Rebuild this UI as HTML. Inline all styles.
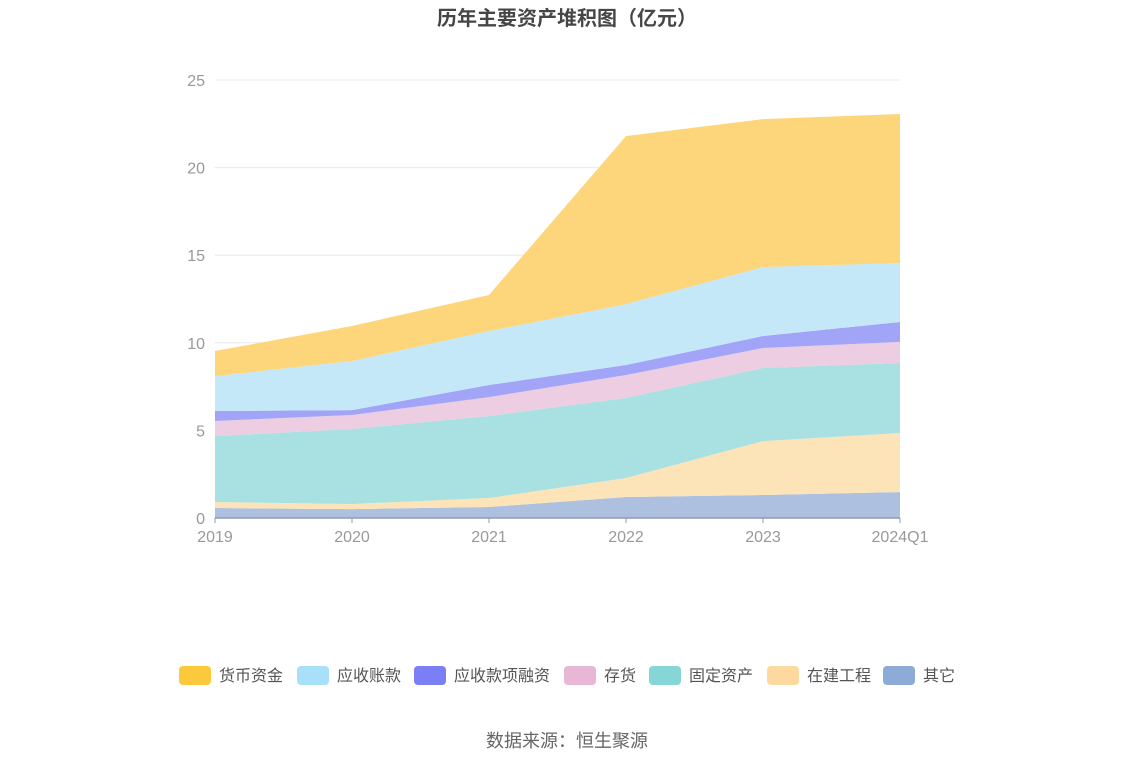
<!DOCTYPE html>
<html><head><meta charset="utf-8"><style>
body{margin:0;background:#fff;}
svg{display:block;font-family:"Liberation Sans","Noto Sans CJK SC",sans-serif;}
</style></head><body>
<svg id="c" width="1134" height="766">
<text x="567" y="25" text-anchor="middle" font-size="20" font-weight="bold" fill="#464646">历年主要资产堆积图（亿元）</text>
<g id="grid"></g><g id="areas"></g><g id="axes"></g><g id="legend"></g>
<text x="567" y="747" text-anchor="middle" font-size="18" fill="#666">数据来源：恒生聚源</text>
</svg>
<script>
const categories=["2019","2020","2021","2022","2023","2024Q1"];
const seriesNames=["其它","在建工程","固定资产","存货","应收款项融资","应收账款","货币资金"];
const other=[0.57,0.51,0.63,1.2,1.31,1.48];
const construction=[0.34,0.29,0.51,1.08,3.08,3.37];
const fixedAssets=[3.77,4.28,4.68,4.57,4.17,4.0];
const inventory=[0.86,0.8,1.08,1.31,1.14,1.2];
const receivableFin=[0.57,0.28,0.69,0.57,0.69,1.14];
const receivables=[1.99,2.8,3.08,3.48,3.94,3.36];
const cash=[1.43,2.0,2.06,9.59,8.44,8.51];
const yTicks=[0,5,10,15,20,25];
const series=[other,construction,fixedAssets,inventory,receivableFin,receivables,cash];
const fills=["#adc0e0","#fde4b8","#a9e0e2","#eccde2","#a2a4f8","#c4e8f8","#fdd57a"];
const legendColors=["#fcc93c","#a8e0fa","#7b7ff5","#e8b7d6","#86d6d8","#fdd9a0","#8eabd8"];
const NS="http://www.w3.org/2000/svg";
const x=i=>215+i*(900-215)/(categories.length-1);
const y=v=>518-v*(518-80)/25;
function mk(t,a,p){const e=document.createElementNS(NS,t);for(const k in a)e.setAttribute(k,a[k]);p.appendChild(e);return e;}
const grid=document.getElementById('grid'),areas=document.getElementById('areas'),axes=document.getElementById('axes'),legend=document.getElementById('legend');
yTicks.forEach(t=>{
 if(t>0){const l=mk('line',{x1:215,x2:900,y1:y(t),y2:y(t),stroke:'#e6e8f2'},grid);
 
 }
 const tx=mk('text',{x:205,y:y(t)+6,'text-anchor':'end','font-size':16,fill:'#999'},axes);tx.textContent=t;
 
 
});
let base=categories.map(()=>0);
series.forEach((s,si)=>{
 const top=base.map((b,i)=>b+s[i]);
 let d='M'+categories.map((c,i)=>x(i)+','+y(top[i])).join('L');
 for(let i=categories.length-1;i>=0;i--)d+='L'+x(i)+','+y(base[i]);
 const p=mk('path',{d:d+'Z',fill:fills[si]},areas);
 
 
 base=top;
});
const ax=mk('line',{x1:215,x2:900,y1:518,y2:518,stroke:'#8e9bb0','stroke-width':1.5},axes);


categories.forEach((c,i)=>{
 mk('line',{x1:x(i),x2:x(i),y1:518,y2:523,stroke:'#8e9bb0'},axes);
 const t=mk('text',{x:x(i),y:542,'text-anchor':'middle','font-size':16,fill:'#999'},axes);t.textContent=c;
 
 
});
const legendOrder=["货币资金","应收账款","应收款项融资","存货","固定资产","在建工程","其它"];
const lx=[179,297,414,564,649,767,883];
legendOrder.forEach((n,i)=>{
 const g=mk('g',{},legend);
 
 
 mk('rect',{x:lx[i],y:666,width:32,height:19,rx:4,fill:legendColors[i]},g);
 const t=mk('text',{x:lx[i]+40,y:681,'font-size':16,fill:'#555'},g);t.textContent=n;
});
</script>
</body></html>
